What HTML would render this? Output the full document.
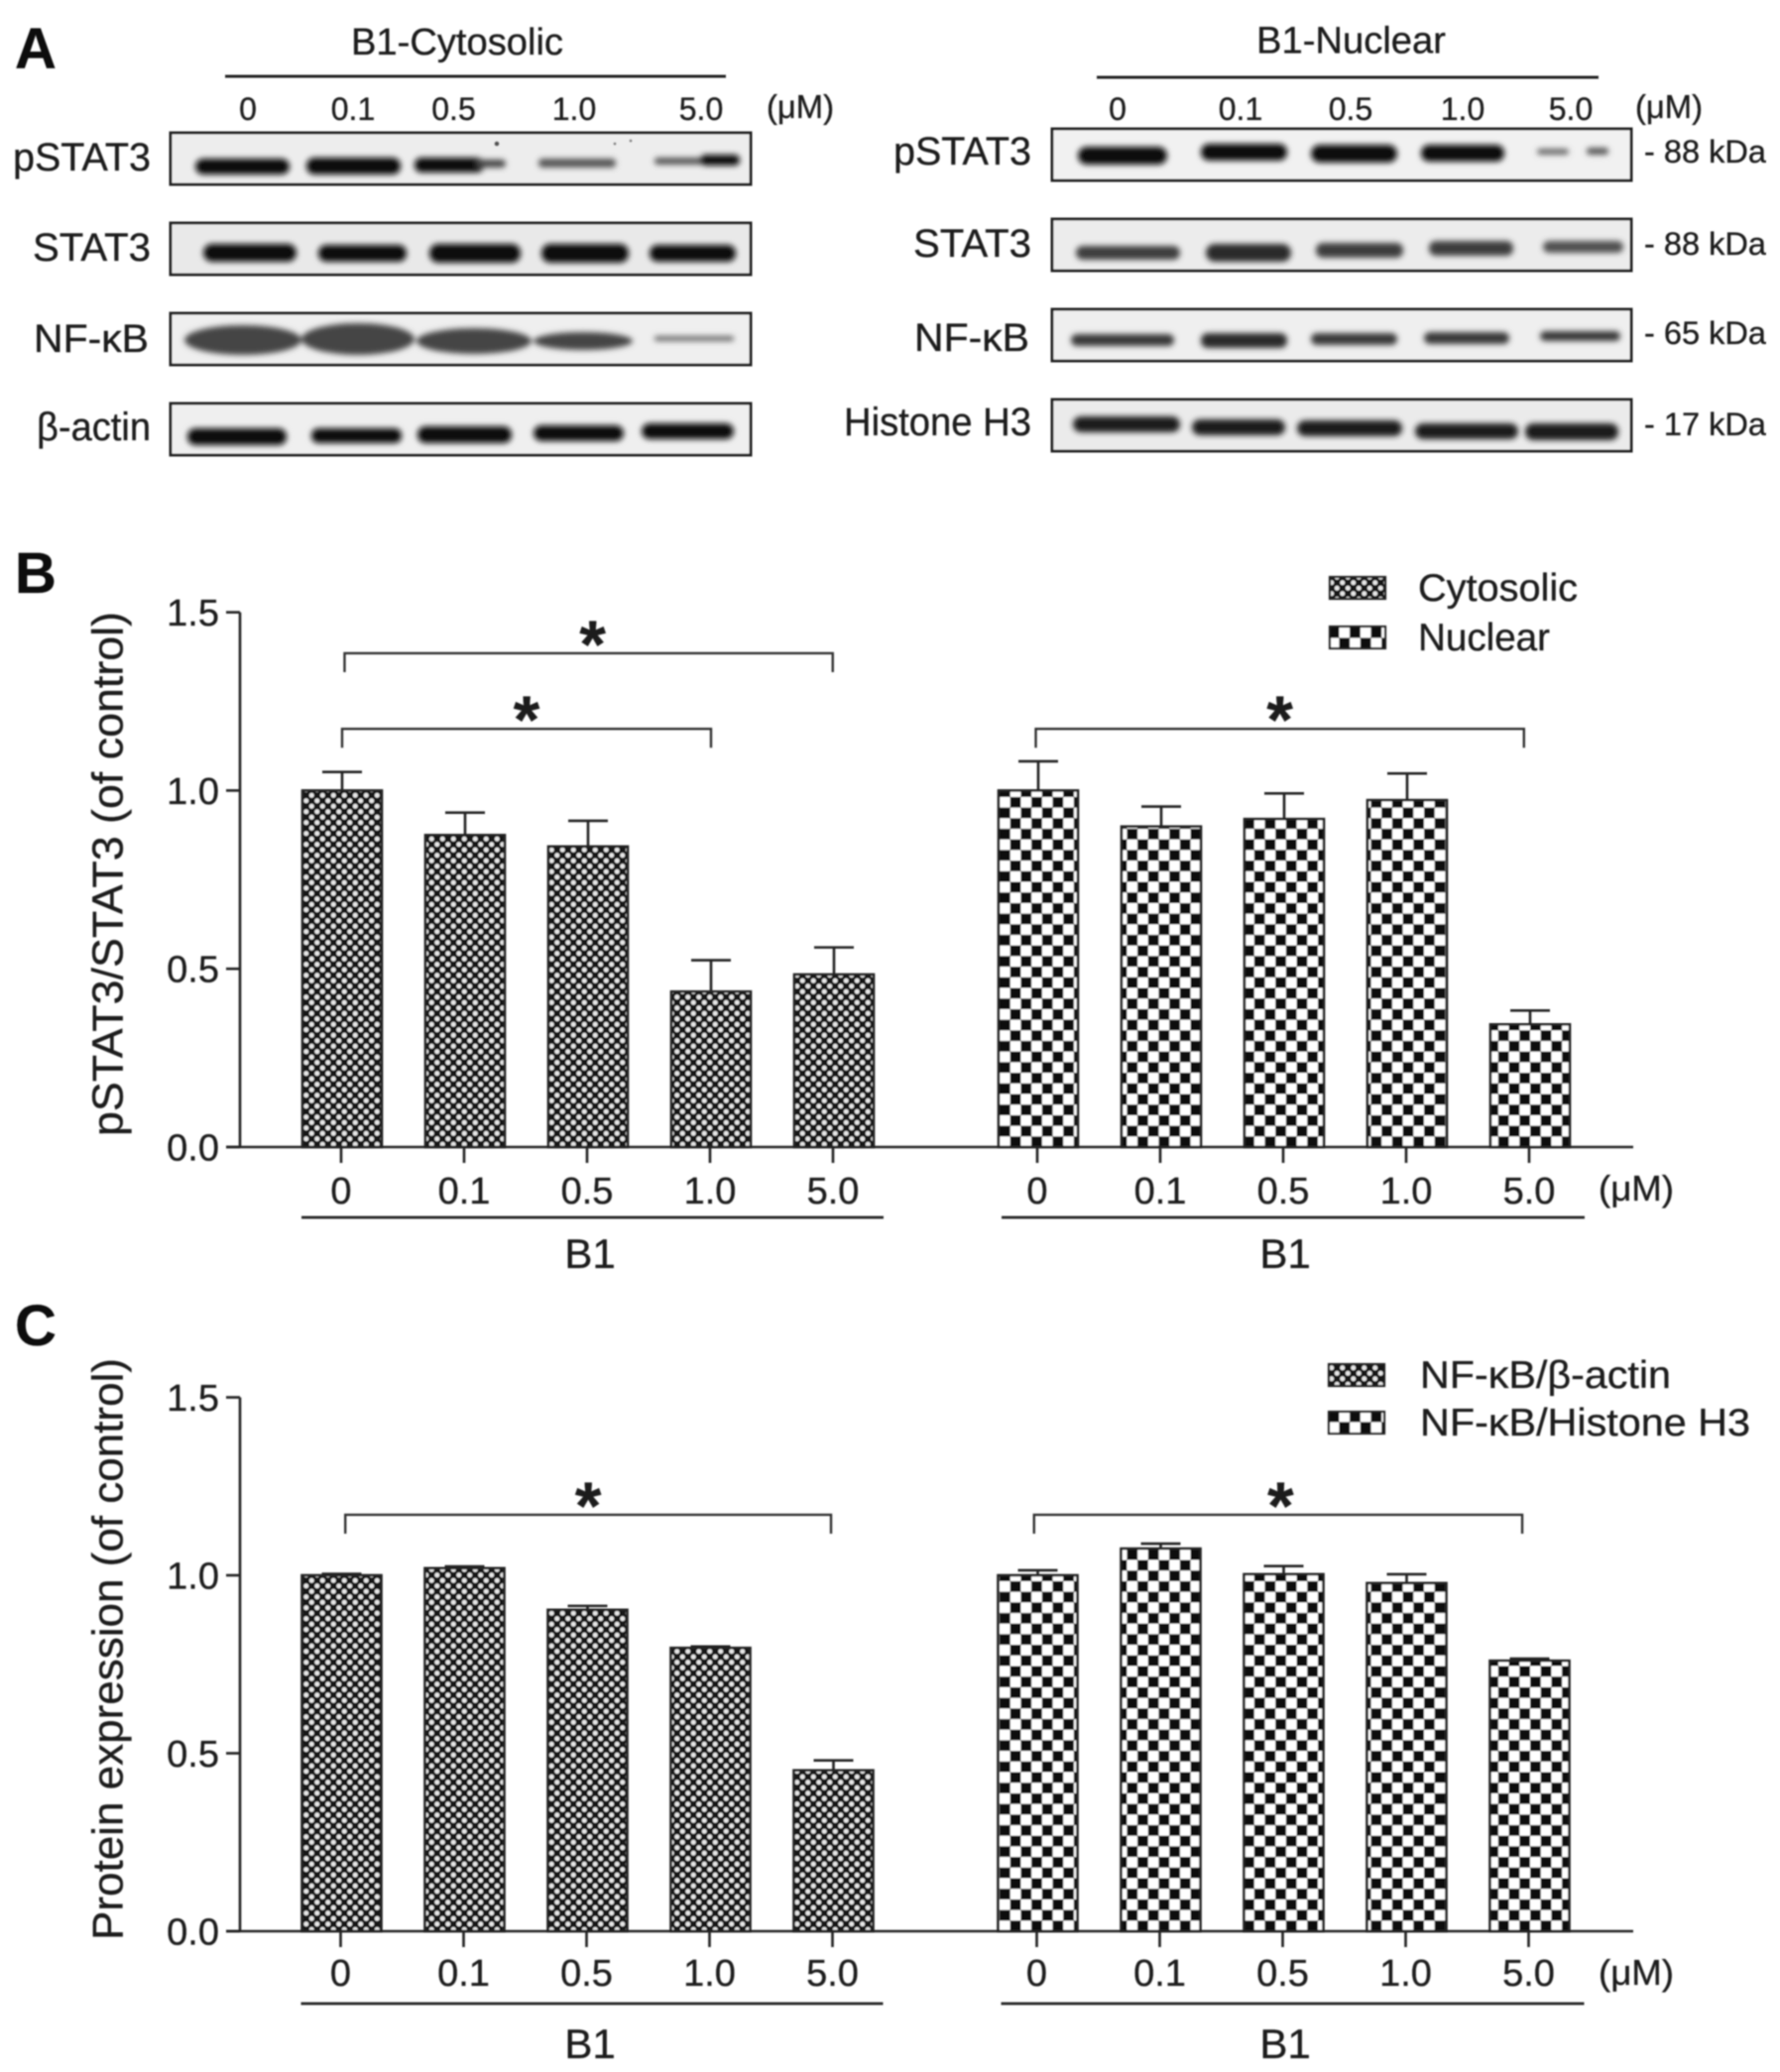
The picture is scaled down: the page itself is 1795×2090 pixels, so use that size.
<!DOCTYPE html>
<html lang="en">
<head>
<meta charset="utf-8">
<title>B1 effect on pSTAT3 and NF-kB</title>
<style>
html,body{margin:0;padding:0;background:#fff;}
svg{display:block;}
text{font-family:"Liberation Sans",sans-serif;fill:#1e1e1e;stroke:#1e1e1e;stroke-width:0.35;}
</style>
</head>
<body>
<svg id="fig" xmlns="http://www.w3.org/2000/svg" width="1795" height="2090" viewBox="0 0 1795 2090">
<defs>
<filter id="soft" x="0" y="0" width="100%" height="100%"><feGaussianBlur stdDeviation="0.7"/></filter>
<filter id="bandblur" x="-20%" y="-80%" width="140%" height="260%"><feGaussianBlur stdDeviation="2.9"/></filter>
<pattern id="fine" patternUnits="userSpaceOnUse" width="11" height="11" x="306" y="1157">
<rect width="11" height="11" fill="#121212"/>
<circle cx="2.75" cy="2.75" r="2.45" fill="#e6e6e6"/>
<circle cx="8.25" cy="8.25" r="2.45" fill="#e6e6e6"/>
</pattern>
<pattern id="coarse" patternUnits="userSpaceOnUse" width="21.4" height="21.4" x="1008" y="1146.3">
<rect width="21.4" height="21.4" fill="#fff"/>
<rect x="10.7" width="10.7" height="10.7" fill="#0c0c0c"/>
<rect y="10.7" width="10.7" height="10.7" fill="#0c0c0c"/>
</pattern>
<pattern id="coarse-c" patternUnits="userSpaceOnUse" width="21.4" height="21.4" x="1008" y="1937.3">
<rect width="21.4" height="21.4" fill="#fff"/>
<rect x="10.7" width="10.7" height="10.7" fill="#0c0c0c"/>
<rect y="10.7" width="10.7" height="10.7" fill="#0c0c0c"/>
</pattern>
</defs>
<rect width="1795" height="2090" fill="#fff"/>
<g id="root" filter="url(#soft)">

<g id="panel-a">
<text x="15" y="69" font-size="58" font-weight="bold" style="fill:#111">A</text>

<text x="354" y="55" font-size="38" textLength="214" lengthAdjust="spacingAndGlyphs">B1-Cytosolic</text>
<rect x="227" y="75.5" width="505" height="3" fill="#222"/>
<g font-size="32" text-anchor="middle">
<text x="250" y="121">0</text><text x="356" y="121">0.1</text><text x="457.5" y="121">0.5</text><text x="579" y="121">1.0</text><text x="707" y="121">5.0</text>
</g>
<text x="773" y="119" font-size="33" textLength="68" lengthAdjust="spacingAndGlyphs">(μM)</text>

<g text-anchor="end" font-size="40">
<text x="152" y="172" textLength="139" lengthAdjust="spacingAndGlyphs">pSTAT3</text>
<text x="152" y="263" textLength="119" lengthAdjust="spacingAndGlyphs">STAT3</text>
<text x="150" y="355" textLength="116" lengthAdjust="spacingAndGlyphs">NF-κB</text>
<text x="152" y="444" textLength="115" lengthAdjust="spacingAndGlyphs">β-actin</text>
</g>

<g>
<rect x="172" y="134" width="585" height="52" fill="#ededed" stroke="#222" stroke-width="3"/>
<g filter="url(#bandblur)" fill="#111">
<rect x="197" y="160" width="95" height="16" rx="8"/><rect x="309" y="159" width="95" height="17" rx="8"/>
<rect x="418" y="159" width="70" height="15" rx="7"/><rect x="480" y="161" width="30" height="8" rx="4" fill="#444"/>
<rect x="543" y="160" width="78" height="9" rx="4" fill="#555"/>
<rect x="660" y="159" width="50" height="7" rx="3" fill="#555"/><rect x="706" y="156" width="40" height="11" rx="5"/>
</g>
<circle cx="501" cy="145" r="2.5" fill="#555"/><circle cx="620" cy="145" r="1.5" fill="#888"/><circle cx="636" cy="142" r="1.5" fill="#888"/>
</g>
<g>
<rect x="172" y="225" width="585" height="52" fill="#e9e9e9" stroke="#222" stroke-width="3"/>
<g filter="url(#bandblur)" fill="#111">
<rect x="205" y="246" width="94" height="18" rx="9"/><rect x="321" y="247" width="89" height="17" rx="8"/>
<rect x="433" y="246" width="92" height="19" rx="9"/><rect x="546" y="246" width="88" height="19" rx="9"/>
<rect x="655" y="247" width="87" height="17" rx="8"/>
</g>
</g>
<g>
<rect x="172" y="316" width="585" height="52" fill="#efefef" stroke="#222" stroke-width="3"/>
<g filter="url(#bandblur)" fill="#444">
<ellipse cx="245" cy="343" rx="59" ry="15"/><ellipse cx="361" cy="342" rx="57" ry="16"/>
<ellipse cx="478" cy="344" rx="58" ry="13"/><ellipse cx="588" cy="344" rx="50" ry="9"/>
<rect x="660" y="339" width="80" height="5" rx="2" fill="#666"/>
</g>
</g>
<g>
<rect x="172" y="407" width="585" height="52" fill="#efefef" stroke="#222" stroke-width="3"/>
<g filter="url(#bandblur)" fill="#0c0c0c">
<rect x="189" y="432" width="100" height="17" rx="8"/><rect x="314" y="432" width="91" height="15" rx="7"/>
<rect x="421" y="430" width="95" height="17" rx="8"/><rect x="538" y="429" width="91" height="16" rx="8"/>
<rect x="647" y="427" width="93" height="16" rx="8"/>
</g>
</g>

<text x="1267" y="53.5" font-size="38" textLength="191" lengthAdjust="spacingAndGlyphs">B1-Nuclear</text>
<rect x="1106" y="76.5" width="506" height="3" fill="#222"/>
<g font-size="32" text-anchor="middle">
<text x="1127" y="121">0</text><text x="1251" y="121">0.1</text><text x="1362" y="121">0.5</text><text x="1475" y="121">1.0</text><text x="1584" y="121">5.0</text>
</g>
<text x="1649" y="119" font-size="33" textLength="68" lengthAdjust="spacingAndGlyphs">(μM)</text>

<g text-anchor="end" font-size="40">
<text x="1040" y="166" textLength="139" lengthAdjust="spacingAndGlyphs">pSTAT3</text>
<text x="1040" y="259" textLength="119" lengthAdjust="spacingAndGlyphs">STAT3</text>
<text x="1038" y="354" textLength="116" lengthAdjust="spacingAndGlyphs">NF-κB</text>
<text x="1040" y="439" textLength="189" lengthAdjust="spacingAndGlyphs">Histone H3</text>
</g>
<g font-size="32">
<text x="1658" y="164" textLength="123" lengthAdjust="spacingAndGlyphs">- 88 kDa</text>
<text x="1658" y="257" textLength="123" lengthAdjust="spacingAndGlyphs">- 88 kDa</text>
<text x="1658" y="347" textLength="123" lengthAdjust="spacingAndGlyphs">- 65 kDa</text>
<text x="1658" y="439" textLength="123" lengthAdjust="spacingAndGlyphs">- 17 kDa</text>
</g>

<g>
<rect x="1061" y="130" width="584" height="52" fill="#f1f1f1" stroke="#222" stroke-width="3"/>
<g filter="url(#bandblur)" fill="#111">
<rect x="1087" y="148" width="90" height="18" rx="9"/><rect x="1211" y="145" width="87" height="17" rx="8"/>
<rect x="1322" y="146" width="87" height="18" rx="9"/><rect x="1433" y="146" width="84" height="17" rx="8"/>
<rect x="1550" y="150" width="32" height="6" rx="3" fill="#666"/><rect x="1600" y="149" width="22" height="7" rx="3" fill="#555"/>
</g>
</g>
<g>
<rect x="1061" y="221" width="584" height="52" fill="#ececec" stroke="#222" stroke-width="3"/>
<g filter="url(#bandblur)" fill="#3c3c3c">
<rect x="1085" y="248" width="105" height="14" rx="7"/><rect x="1216" y="246" width="86" height="18" rx="9" fill="#2c2c2c"/>
<rect x="1327" y="245" width="88" height="15" rx="7"/><rect x="1441" y="243" width="85" height="15" rx="7"/>
<rect x="1556" y="243" width="81" height="12" rx="6" fill="#505050"/>
</g>
</g>
<g>
<rect x="1061" y="312" width="584" height="52" fill="#efefef" stroke="#222" stroke-width="3"/>
<g filter="url(#bandblur)" fill="#383838">
<rect x="1080" y="337" width="104" height="12" rx="6"/><rect x="1211" y="336" width="87" height="15" rx="7" fill="#2c2c2c"/>
<rect x="1322" y="336" width="87" height="12" rx="6"/><rect x="1436" y="335" width="86" height="12" rx="6"/>
<rect x="1553" y="334" width="81" height="10" rx="5"/>
</g>
</g>
<g>
<rect x="1061" y="403" width="584" height="52" fill="#ebebeb" stroke="#222" stroke-width="3"/>
<g filter="url(#bandblur)" fill="#1e1e1e">
<rect x="1082" y="420" width="108" height="16" rx="8"/><rect x="1202" y="423" width="94" height="16" rx="8"/>
<rect x="1308" y="424" width="106" height="16" rx="8"/><rect x="1427" y="427" width="104" height="16" rx="8"/>
<rect x="1538" y="427" width="94" height="17" rx="8"/>
</g>
</g>
</g>

<text x="15" y="598" font-size="58" font-weight="bold" style="fill:#111">B</text>
<text x="15" y="1357" font-size="58" font-weight="bold" style="fill:#111">C</text>

<g id="chart-b"></g>
<g id="chart-c"></g>
</g>
</svg>
<script>
const doseLabels = ['0', '0.1', '0.5', '1.0', '5.0'];
const yTickValues = [0, 0.5, 1.0, 1.5];
const yTickLabels = ['0.0', '0.5', '1.0', '1.5'];

const pstatCytosolic = [1.0, 0.875, 0.843, 0.436, 0.484];
const pstatCytosolicErr = [0.052, 0.063, 0.072, 0.088, 0.076];
const pstatNuclear = [1.0, 0.899, 0.92, 0.973, 0.344];
const pstatNuclearErr = [0.082, 0.056, 0.072, 0.075, 0.039];

const nfkbActin = [1.0, 1.02, 0.903, 0.796, 0.452];
const nfkbActinErr = [0.004, 0.005, 0.011, 0.004, 0.028];
const nfkbHistone = [1.0, 1.075, 1.003, 0.978, 0.76];
const nfkbHistoneErr = [0.014, 0.014, 0.023, 0.025, 0.006];

const SVGNS = 'http://www.w3.org/2000/svg';
function make(tag, parent, attrs, txt) {
  const n = document.createElementNS(SVGNS, tag);
  for (const k in attrs) n.setAttribute(k, attrs[k]);
  if (txt !== undefined) n.textContent = txt;
  parent.appendChild(n);
  return n;
}

function drawChart(cfg) {
  const root = document.getElementById(cfg.id);
  const yScale = v => cfg.y0 - v * cfg.unit;
  const xScale = (group, i) => cfg.groupX[group] + i * 124;
  const ink = '#222';

  // y axis
  const yAxis = make('line', root, {x1: 242, x2: 242, y1: yScale(1.5), y2: yScale(0), stroke: ink, 'stroke-width': 2.6});
  
  
  yTickValues.forEach((v, i) => {
    const tick = make('line', root, {x1: 228, x2: 242, y1: yScale(v), y2: yScale(v), stroke: ink, 'stroke-width': 2.6});
    
    
    const label = make('text', root, {x: 221, y: yScale(v) + 13.5, 'font-size': 38, 'text-anchor': 'end'}, yTickLabels[i]);
    
    
  });

  // y title
  const title = make('text', root, {
    transform: 'translate(' + cfg.titleX + ',' + cfg.titleY + ') rotate(-90)',
    'font-size': 44, 'text-anchor': 'middle',
    textLength: cfg.titleLen, lengthAdjust: 'spacingAndGlyphs'
  }, cfg.title);
  
  

  // series bars
  cfg.series.forEach((s, g) => {
    s.values.forEach((v, i) => {
      const cx = xScale(g, i);
      const top = yScale(v);
      const errTop = yScale(v + s.errors[i]);
      const stem = make('line', root, {x1: cx, x2: cx, y1: top, y2: errTop, stroke: ink, 'stroke-width': 2.6});
      
      
      const cap = make('line', root, {x1: cx - 20, x2: cx + 20, y1: errTop, y2: errTop, stroke: ink, 'stroke-width': 2.6});
      
      
      const bar = make('rect', root, {
        x: cx - 40, y: top, width: 80, height: cfg.y0 - top,
        fill: 'url(#' + s.pattern + ')', stroke: ink, 'stroke-width': 2.6
      });
      
      

      const xTick = make('line', root, {x1: cx - 1, x2: cx - 1, y1: cfg.y0, y2: cfg.y0 + 16, stroke: ink, 'stroke-width': 2.6});
      
      
      const xLabel = make('text', root, {x: cx - 1, y: cfg.y0 + cfg.tickDy, 'font-size': 38, 'text-anchor': 'middle'}, doseLabels[i]);
      
      
    });

    const rule = make('line', root, {
      x1: xScale(g, 0) - cfg.ruleLeft[g], x2: xScale(g, 4) + cfg.ruleRight[g],
      y1: cfg.y0 + cfg.ruleDy, y2: cfg.y0 + cfg.ruleDy, stroke: ink, 'stroke-width': 2.8
    });
    
    
    const groupLabel = make('text', root, {
      x: cfg.groupLabelX[g], y: cfg.y0 + cfg.groupDy, 'font-size': 42, 'text-anchor': 'middle'
    }, 'B1');
    
    
  });

  // x axis
  const xAxis = make('line', root, {x1: 228, x2: 1647, y1: cfg.y0, y2: cfg.y0, stroke: ink, 'stroke-width': 2.6});
  
  

  const unit = make('text', root, {x: 1612, y: cfg.y0 + cfg.unitDy, 'font-size': 36, textLength: 76, lengthAdjust: 'spacingAndGlyphs'}, '(μM)');
  
  

  // significance brackets
  cfg.brackets.forEach(b => {
    const x1 = xScale(b.group, b.from);
    const x2 = xScale(b.group, b.to);
    const yTop = yScale(b.level);
    const yEnd = yTop + 19;
    const br = make('path', root, {
      d: 'M' + x1 + ' ' + yEnd + 'V' + yTop + 'H' + x2 + 'V' + yEnd,
      fill: 'none', stroke: '#333', 'stroke-width': 2.4
    });
    
    
    const star = make('text', root, {
      x: x1 + (x2 - x1) * b.starAt, y: yTop + 14, 'font-size': 68, 'font-weight': 'bold', 'text-anchor': 'middle'
    }, '*');
    
    
  });

  // legend
  cfg.series.forEach((s, g) => {
    const swatch = make('rect', root, {
      x: cfg.legendX, y: cfg.legendY[g], width: 56, height: 22,
      fill: 'url(#' + s.pattern + ')', stroke: ink, 'stroke-width': 2.2
    });
    
    
    const legendText = make('text', root, {
      x: cfg.legendTextX, y: cfg.legendY[g] + 24, 'font-size': 39,
      textLength: s.legendLen, lengthAdjust: 'spacingAndGlyphs'
    }, s.name);
    
    
  });
}

drawChart({
  id: 'chart-b', y0: 1157, unit: 359.6, groupX: [345, 1047],
  title: 'pSTAT3/STAT3 (of control)', titleX: 123.5, titleY: 881.5, titleLen: 529,
  tickDy: 57, ruleDy: 71, groupDy: 122, unitDy: 54,
  ruleLeft: [41, 37], ruleRight: [50, 55], groupLabelX: [595, 1296],
  series: [
    {key: 'cytosolic', name: 'Cytosolic', pattern: 'fine', values: pstatCytosolic, errors: pstatCytosolicErr, legendLen: 161},
    {key: 'nuclear', name: 'Nuclear', pattern: 'coarse', values: pstatNuclear, errors: pstatNuclearErr, legendLen: 133}
  ],
  brackets: [
    {group: 0, from: 0.02, to: 3.99, level: 1.385, starAt: 0.508},
    {group: 0, from: 0, to: 3, level: 1.173, starAt: 0.5},
    {group: 1, from: -0.02, to: 3.95, level: 1.173, starAt: 0.5}
  ],
  legendX: 1341, legendY: [582, 632], legendTextX: 1430
});

drawChart({
  id: 'chart-c', y0: 1948, unit: 359, groupX: [344.5, 1046.5],
  title: 'Protein expression (of control)', titleX: 123.5, titleY: 1663.5, titleLen: 587,
  tickDy: 55, ruleDy: 73, groupDy: 128, unitDy: 54,
  ruleLeft: [41, 37], ruleRight: [50, 55], groupLabelX: [595, 1296],
  series: [
    {key: 'actin', name: 'NF-κB/β-actin', pattern: 'fine', values: nfkbActin, errors: nfkbActinErr, legendLen: 253},
    {key: 'histone', name: 'NF-κB/Histone H3', pattern: 'coarse-c', values: nfkbHistone, errors: nfkbHistoneErr, legendLen: 333}
  ],
  brackets: [
    {group: 0, from: 0.03, to: 3.98, level: 1.17, starAt: 0.5},
    {group: 1, from: -0.03, to: 3.94, level: 1.17, starAt: 0.505}
  ],
  legendX: 1340, legendY: [1376, 1424], legendTextX: 1432
});
</script>
</body>
</html>
